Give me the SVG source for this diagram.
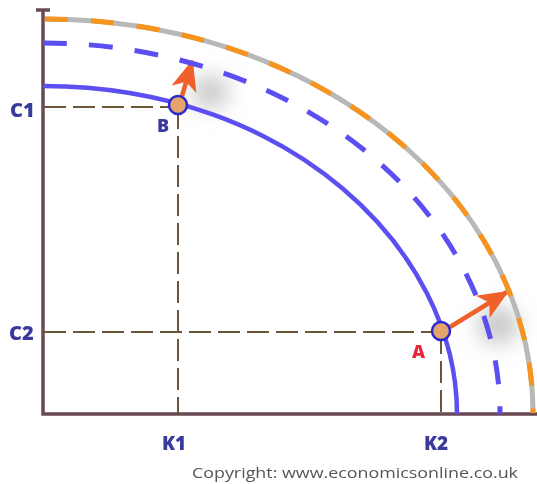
<svg xmlns="http://www.w3.org/2000/svg" width="537" height="484" viewBox="0 0 537 484">
<defs>
<filter id="blur" x="-80%" y="-80%" width="260%" height="260%"><feGaussianBlur stdDeviation="11"/></filter>
<marker id="ah" viewBox="0 0 12 10" refX="11" refY="5" markerWidth="31" markerHeight="26" orient="auto" markerUnits="userSpaceOnUse">
<path d="M0,0 L12,5 L0,10 L3,5 Z" fill="#f0602a"/>
</marker>
</defs>
<style>
.axis{fill:none;stroke:#6a4a52;stroke-width:3.5}
.guide{fill:none;stroke:#6b5638;stroke-width:2;stroke-dasharray:22 7}
.ppf{fill:none;stroke:#5b4ff2;stroke-width:4.5}
.ppf2{fill:none;stroke:#5b4ff2;stroke-width:5;stroke-dasharray:24 22}
.grey{fill:none;stroke:#b8b8b8;stroke-width:5}
.orange{fill:none;stroke:#f7941d;stroke-width:5;stroke-dasharray:23 23}
.arrow{fill:none;stroke:#f0602a;stroke-width:4.5;marker-end:url(#ah)}
.pt{fill:#e5a46c;stroke:#2a2ad0;stroke-width:2.5}
.lbl{font-family:"Open Sans","Liberation Sans",sans-serif;font-weight:800;fill:#3a3a9c}
.copy{font-family:"Open Sans","Liberation Sans",sans-serif;fill:#555555;font-size:14px}
</style>
<rect width="537" height="484" fill="#ffffff"/>
<g id="shadows" filter="url(#blur)">
<ellipse cx="210" cy="92" rx="18" ry="16" fill="#888" opacity="0.5"/>
<ellipse cx="498" cy="325" rx="20" ry="18" fill="#888" opacity="0.5"/>
</g>
<g id="axes">
<path class="axis" d="M43,10 L43,414 L537,414"/>
<path class="axis" d="M36,10 L50,10" stroke-width="3"/>
</g>
<g id="connectors">
<path class="guide" d="M44,107 L178,107"/>
<path class="guide" d="M178,107 L178,413"/>
<path class="guide" d="M44,332 L441,332"/>
<path class="guide" d="M441,332 L441,413"/>
<path class="arrow" d="M182,96 L192,62"/>
<path class="arrow" d="M450,327 L507,292"/>
</g>
<g id="curve-outer">
<path class="grey" d="M45,19 A488,394 0 0 1 533,413"/>
<path class="orange" d="M45,19 A488,394 0 0 1 533,413"/>
</g>
<g id="curve-dashed">
<path class="ppf2" d="M43,43 A457,371 0 0 1 500,414"/>
</g>
<g id="curve-inner">
<path class="ppf" d="M43,86 C290,86 457,250 457,414"/>
</g>
<g id="point-B">
<circle class="pt" cx="178" cy="105" r="9"/>
<text class="lbl" x="157" y="132" font-size="18">B</text>
</g>
<g id="point-A">
<circle class="pt" cx="441" cy="331" r="9"/>
<text class="lbl" x="412" y="358" font-size="18" style="fill:#e8283a">A</text>
</g>
<g id="labels">
<text class="lbl" x="10" y="117" font-size="20">C1</text>
<text class="lbl" x="9" y="340" font-size="20">C2</text>
<text class="lbl" x="174" y="450" font-size="19" text-anchor="middle">K1</text>
<text class="lbl" x="436" y="450" font-size="19" text-anchor="middle">K2</text>
<text class="copy" x="192" y="478" textLength="326" lengthAdjust="spacingAndGlyphs">Copyright: www.economicsonline.co.uk</text>
</g>
</svg>
